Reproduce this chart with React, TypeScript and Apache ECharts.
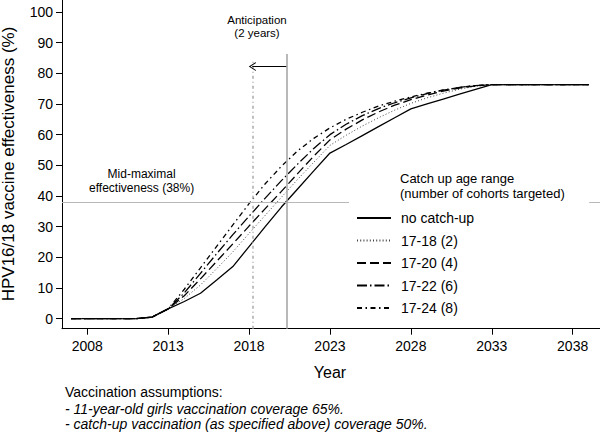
import React, { useEffect, useRef } from "react";
import * as echarts from "echarts";

const FONT = "'Liberation Sans', Arial, Helvetica, sans-serif";

const years = [
  2007, 2008, 2009, 2010, 2011, 2012, 2013, 2014, 2015, 2016, 2017, 2018, 2019,
  2020, 2021, 2022, 2023, 2024, 2025, 2026, 2027, 2028, 2029, 2030, 2031, 2032,
  2033, 2034, 2035, 2036, 2037, 2038, 2039,
];
const noCatchUp = [
  0, 0, 0, 0, 0, 0.5, 3.2, 5.6, 8.3, 12.6, 17, 23.5, 30, 36.4, 42.3, 48.2, 54,
  56.8, 59.7, 62.6, 65.5, 68.4, 70, 71.6, 73.2, 74.8, 76.3, 76.3, 76.3, 76.3,
  76.3, 76.3, 76.3,
];
const catchUp1718 = [
  0, 0, 0, 0, 0, 0.5, 3.2, 6.6, 11, 16.3, 21.8, 27.8, 33.7, 39.6, 45.4, 51, 56.5,
  59.8, 62.8, 65.5, 68, 70.2, 72, 73.5, 74.8, 75.8, 76.3, 76.3, 76.3, 76.3,
  76.3, 76.3, 76.3,
];
const catchUp1720 = [
  0, 0, 0, 0, 0, 0.5, 3.2, 7.5, 13, 18.7, 24.4, 30.2, 35.9, 41.5, 47.3, 53, 58.3,
  61.8, 64.8, 67.4, 69.6, 71.4, 72.9, 74.2, 75.2, 75.9, 76.3, 76.3, 76.3, 76.3,
  76.3, 76.3, 76.3,
];
const catchUp1722 = [
  0, 0, 0, 0, 0, 0.5, 3.2, 8.4, 14.8, 21.2, 27.4, 33.4, 39.3, 45, 50.4, 55.5, 60,
  63.4, 66.2, 68.5, 70.4, 72, 73.4, 74.5, 75.4, 76, 76.3, 76.3, 76.3, 76.3,
  76.3, 76.3, 76.3,
];
const catchUp1724 = [
  0, 0, 0, 0, 0, 0.5, 3.2, 9.6, 16.6, 23.6, 30.6, 37.5, 44, 49.7, 54.7, 58.8,
  62.2, 65, 67.3, 69.3, 70.9, 72.3, 73.5, 74.6, 75.4, 76, 76.3, 76.3, 76.3,
  76.3, 76.3, 76.3, 76.3,
];
const seriesNames = [
  "no catch-up",
  "17-18 (2)",
  "17-20 (4)",
  "17-22 (6)",
  "17-24 (8)",
];
const xTicks = [2008, 2013, 2018, 2023, 2028, 2033, 2038];
const yTicks = [0, 10, 20, 30, 40, 50, 60, 70, 80, 90, 100];

const midMaximal = 38;
const yearNoCatchUp38 = 2020.3;
const yearCatchUp38 = 2018.2;
const solidLineTop = 86.3;
const dottedLineTop = 83.8;
const arrowLevel = 82.2;

const X_MIN = 2006.44;
const X_MAX = 2039.69;
const Y_MIN = -3.26;
const Y_MAX = 103.9;

const toPairs = (vals: number[]) => years.map((y, i) => [y, vals[i]]);

const App = () => {
  const ref = useRef<HTMLDivElement>(null);

  useEffect(() => {
    if (!ref.current) return;
    const chart = echarts.init(ref.current, null, { renderer: "svg" });

    const styles = [
      { color: "#000", width: 1.3, type: "solid" as any },
      { color: "#444", width: 1, type: [1, 2.2] as any },
      { color: "#000", width: 1.3, type: [9, 4] as any },
      { color: "#000", width: 1.3, type: [10, 3, 1.5, 3] as any },
      { color: "#000", width: 1.3, type: [5, 3.5, 1.5, 3.5] as any },
    ];
    const datasets = [noCatchUp, catchUp1718, catchUp1720, catchUp1722, catchUp1724];

    const series: any[] = datasets.map((vals, i) => ({
      name: seriesNames[i],
      type: "line",
      data: toPairs(vals),
      symbol: "none",
      showSymbol: false,
      silent: true,
      z: 3,
      color: "#000",
      itemStyle: { color: "#000" },
      lineStyle: styles[i],
      emphasis: { disabled: true },
    }));

    series[0].markLine = {
      silent: true,
      symbol: ["none", "none"],
      label: { show: false },
      emphasis: { disabled: true },
      animation: false,
      data: [
        [
          { coord: [X_MIN, midMaximal], lineStyle: { color: "#b8b8b8", width: 1.2, type: "solid" } },
          { coord: [X_MAX, midMaximal] },
        ],
        [
          { coord: [yearNoCatchUp38, Y_MIN], lineStyle: { color: "#a8a8a8", width: 1.6, type: "solid" } },
          { coord: [yearNoCatchUp38, solidLineTop] },
        ],
        [
          { coord: [yearCatchUp38, Y_MIN], lineStyle: { color: "#b0b0b0", width: 1.6, type: [3, 3, 1, 3] } },
          { coord: [yearCatchUp38, dottedLineTop] },
        ],
        [
          { coord: [yearNoCatchUp38, arrowLevel], lineStyle: { color: "#000", width: 1.2, type: "solid" }, symbol: "none" },
          {
            coord: [yearCatchUp38, arrowLevel],
            symbol: "path://M0,10 L5,0 L10,10 L8.8,10 L5,2.4 L1.2,10 Z",
            symbolSize: [9, 7],
            symbolOffset: [0, 0],
          },
        ],
      ],
    };

    const text = (
      t: string,
      x: number,
      y: number,
      opts: any = {}
    ) => ({
      type: "text",
      x,
      y,
      z: 100,
      silent: true,
      rotation: opts.rotation || 0,
      style: {
        text: t,
        fill: "#000",
        fontSize: opts.fontSize || 14,
        fontFamily: FONT,
        fontStyle: opts.fontStyle || "normal",
        align: opts.align || "center",
        verticalAlign: "middle",
        lineHeight: opts.lineHeight,
      },
    });

    const option: any = {
      animation: false,
      backgroundColor: "#fff",
      textStyle: { fontFamily: FONT },
      grid: {
        left: 62,
        right: 0,
        top: 0,
        bottom: 106.3,
        containLabel: false,
        outerBoundsMode: "none",
      },
      xAxis: {
        type: "value",
        min: X_MIN,
        max: X_MAX,
        axisLine: { show: true, onZero: false, lineStyle: { color: "#000", width: 1 } },
        axisTick: { show: true, length: 6, customValues: xTicks, lineStyle: { color: "#000", width: 1 } },
        axisLabel: {
          customValues: xTicks,
          formatter: (v: number) => String(Math.round(v)),
          margin: 10,
          fontSize: 14,
          color: "#000",
          fontFamily: FONT,
        },
        splitLine: { show: false },
      },
      yAxis: {
        type: "value",
        min: Y_MIN,
        max: Y_MAX,
        axisLine: { show: true, onZero: false, lineStyle: { color: "#000", width: 1 } },
        axisTick: { show: true, length: 6, customValues: yTicks, lineStyle: { color: "#000", width: 1 } },
        axisLabel: {
          customValues: yTicks,
          formatter: (v: number) => String(Math.round(v)),
          margin: 9,
          fontSize: 14,
          color: "#000",
          fontFamily: FONT,
        },
        splitLine: { show: false },
      },
      legend: {
        data: seriesNames,
        orient: "vertical",
        left: 349,
        top: 170,
        padding: [41, 115, 8, 7],
        backgroundColor: "#fff",
        itemWidth: 34,
        itemHeight: 14,
        itemGap: 8.5,
        selectedMode: false,
        z: 20,
        itemStyle: { opacity: 0, borderWidth: 0 },
        textStyle: {
          fontSize: 14,
          color: "#000",
          fontFamily: FONT,
          padding: [0, 0, 0, 5],
        },
      },
      graphic: [
        text("HPV16/18 vaccine effectiveness (%)", 8, 164, {
          rotation: Math.PI / 2,
          fontSize: 17,
        }),
        text("Year", 330, 372, { fontSize: 16 }),
        text("Anticipation\n(2 years)", 257, 26.5, { fontSize: 11.5, lineHeight: 13 }),
        text("Mid-maximal\neffectiveness (38%)", 141.6, 181, { fontSize: 12, lineHeight: 14 }),
        text("Catch up age range\n(number of cohorts targeted)", 400, 186.3, {
          fontSize: 13,
          lineHeight: 15,
          align: "left",
        }),
        text("Vaccination assumptions:", 65, 392, { align: "left", fontSize: 14 }),
        text("- 11-year-old girls vaccination coverage 65%.", 65, 408.5, {
          align: "left",
          fontSize: 14,
          fontStyle: "italic",
        }),
        text("- catch-up vaccination (as specified above) coverage 50%.", 65, 424, {
          align: "left",
          fontSize: 14,
          fontStyle: "italic",
        }),
      ],
      series,
    };

    chart.setOption(option);
    return () => chart.dispose();
  }, []);

  return (
    <div
      ref={ref}
      style={{ position: "absolute", left: 0, top: 0, width: 600, height: 435 }}
    />
  );
};

export default App;
